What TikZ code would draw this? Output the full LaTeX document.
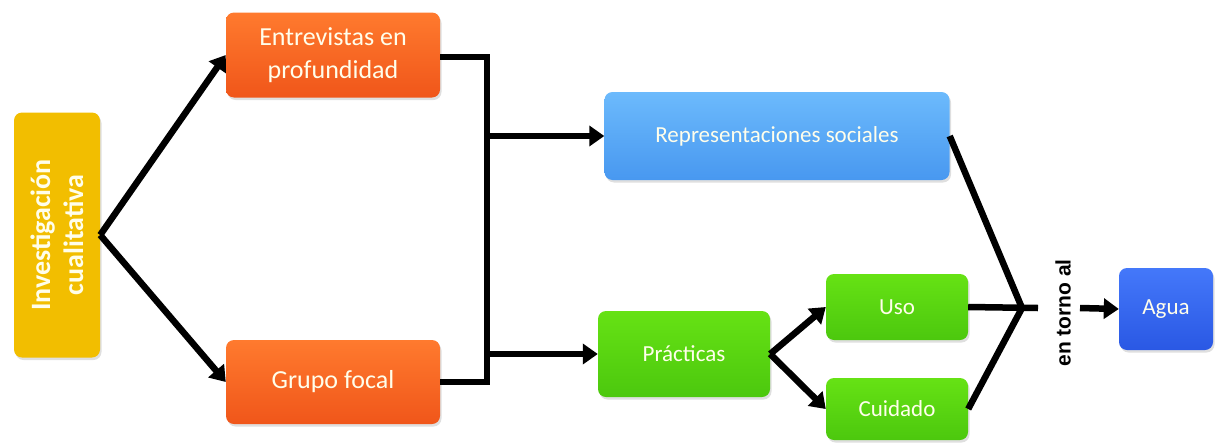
\documentclass[tikz,border=0pt]{standalone}
\usepackage{fontspec}
\setmainfont{Carlito}
\newfontfamily\arialfont{Liberation Sans}
\usetikzlibrary{arrows.meta,shadows}
\definecolor{oro}{HTML}{F2BE00}
\definecolor{naranjaTop}{HTML}{FF7A2E}
\definecolor{naranjaBot}{HTML}{F0561A}
\definecolor{celesteTop}{HTML}{6CBAFC}
\definecolor{celesteBot}{HTML}{4898F0}
\definecolor{verdeTop}{HTML}{66E214}
\definecolor{verdeBot}{HTML}{4CC80E}
\definecolor{azulTop}{HTML}{4478FA}
\definecolor{azulBot}{HTML}{2A58E4}
\tikzset{
	caja/.style={rounded corners=8pt, inner sep=0pt, text=white!92!yellow, align=center,
		drop shadow={shadow xshift=1.5pt, shadow yshift=-2.5pt, opacity=0.25}},
	naranja/.style={caja, top color=naranjaTop, bottom color=naranjaBot, font=\fontsize{26}{33}\selectfont},
	celeste/.style={caja, top color=celesteTop, bottom color=celesteBot, font=\fontsize{23}{28}\selectfont},
	verde/.style={caja, top color=verdeTop, bottom color=verdeBot, font=\fontsize{23}{28}\selectfont},
	linea/.style={line width=6.5pt},
	flecha/.style={linea, -{Triangle[length=15pt,width=20pt]}},
}
\begin{document}
\begin{tikzpicture}[x=1pt, y=-1pt]
		\useasboundingbox (0,0) rectangle (1217,442);
		\node[caja, fill=oro, rotate=90, minimum width=245, minimum height=86,
			font=\bfseries\fontsize{28}{33}\selectfont] (inv) at (57,235) {Investigación\\cualitativa};
		\node[naranja, minimum width=214, minimum height=85] (entr) at (333,55) {Entrevistas en\\profundidad};
		\node[naranja, minimum width=214, minimum height=84] (grupo) at (333,382) {Grupo focal};
		\node[celeste, minimum width=345, minimum height=88] (rep) at (777,136) {Representaciones sociales};
		\node[verde, minimum width=172, minimum height=86] (prac) at (684,354) {Prácticas};
		\node[verde, minimum width=142, minimum height=66] (uso) at (897,307) {Uso};
		\node[verde, minimum width=142, minimum height=62] (cuid) at (897,409) {Cuidado};
		\node[caja, top color=azulTop, bottom color=azulBot, minimum width=94, minimum height=82,
			font=\fontsize{23}{28}\selectfont] (agua) at (1166,309) {Agua};
		\node[rotate=90, font=\arialfont\bfseries\fontsize{21}{25}\selectfont] (torno) at (1063,313) {en torno al};
		\coordinate (bt) at (487,57);
		\coordinate (bb) at (487,382);
		\coordinate (j) at (1022,308);
		\coordinate (js) at (1038,308);
		\coordinate (ja) at (1080,308);
		\draw[flecha] (inv.south) -- (entr.west);
		\draw[flecha] (inv.south) -- (grupo.west);
		\draw[linea] (entr.east |- bt) -- (bt) -- (bb) -- (grupo.east);
		\draw[flecha] (rep.west -| bt) -- (rep.west);
		\draw[flecha] (prac.west -| bt) -- (prac.west);
		\draw[flecha] (prac.east) -- (uso.west);
		\draw[flecha] (prac.east) -- (cuid.west);
		\draw[linea, line join=miter] (rep.east) -- (j) -- (cuid.east);
		\draw[linea] (uso.east) -- (js);
		\draw[flecha] (ja) -- (agua.west);
	\end{tikzpicture}
\end{document}
